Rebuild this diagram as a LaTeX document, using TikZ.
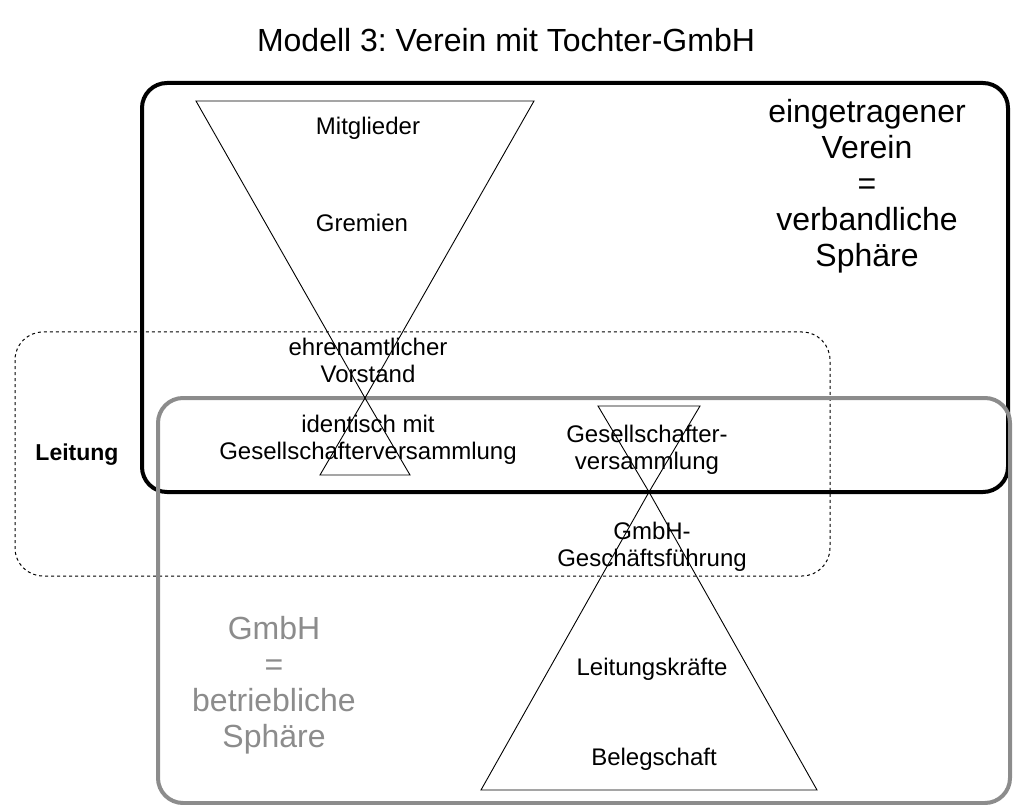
\documentclass[tikz,border=0pt]{standalone}
\usepackage{fontspec}
\setmainfont{Liberation Sans}
\frenchspacing
\definecolor{gmbhgray}{rgb}{0.55,0.55,0.55}
\tikzset{
  sphere/.style={line width=4pt, rounded corners=25pt},
  leitungbox/.style={line width=1pt, dash pattern=on 3pt off 3pt, rounded corners=28pt},
  funnel/.style={line width=0.9pt},
  lbl/.style={inner sep=0pt, align=center, font=\fontsize{24}{27}\selectfont},
  biglbl/.style={inner sep=0pt, align=center, font=\fontsize{32}{36}\selectfont},
}
\begin{document}
\begin{tikzpicture}[x=1pt,y=-1pt]
\useasboundingbox (0,0) rectangle (1013,805);

% title
\node[biglbl] (title) at (506,40) {Modell 3: Verein mit Tochter-GmbH};

% leadership band (dotted)
\draw[leitungbox] (15,332) rectangle (830,576);

% spheres
\draw[sphere, black] (142,83) rectangle (1008,492);
\draw[sphere, gmbhgray] (158,398) rectangle (1010,803);

% association hourglass
\coordinate (vtl) at (196,101);
\coordinate (vtr) at (534,101);
\coordinate (vx)  at (365,398);
\coordinate (vbl) at (320,475);
\coordinate (vbr) at (410,475);
\draw[funnel] (vtl) -- (vtr) -- (vx) -- cycle;
\draw[funnel] (vx) -- (vbr) -- (vbl) -- cycle;

% company hourglass
\coordinate (gtl) at (598,406);
\coordinate (gtr) at (700,406);
\coordinate (gx)  at (649,492);
\coordinate (gbl) at (481,790);
\coordinate (gbr) at (817,790);
\draw[funnel] (gtl) -- (gtr) -- (gx) -- cycle;
\draw[funnel] (gx) -- (gbr) -- (gbl) -- cycle;

% labels
\node[biglbl] (verein) at (867,186) {eingetragener\\Verein\\=\\verbandliche\\Sphäre};
\node[biglbl, text=gmbhgray] (gmbh) at (274,685) {GmbH\\=\\betriebliche\\Sphäre};
\node[inner sep=0pt, font=\fontsize{23}{26}\selectfont\bfseries] (leitung) at (77,455) {Leitung};

\node[lbl] (mitglieder) at (368,128) {Mitglieder};
\node[lbl] (gremien) at (362,223) {Gremien};
\node[lbl] (vorstand) at (368,360) {ehrenamtlicher\\Vorstand};
\node[lbl] (identisch) at (368,440) {identisch mit\\Gesellschafterversammlung};
\node[lbl] (gesv) at (647,450) {Gesellschafter-\\versammlung};
\node[lbl] (gf) at (652,547) {GmbH-\\Geschäftsführung};
\node[lbl] (lk) at (652,669) {Leitungskräfte};
\node[lbl] (beleg) at (654,759) {Belegschaft};
\end{tikzpicture}
\end{document}
